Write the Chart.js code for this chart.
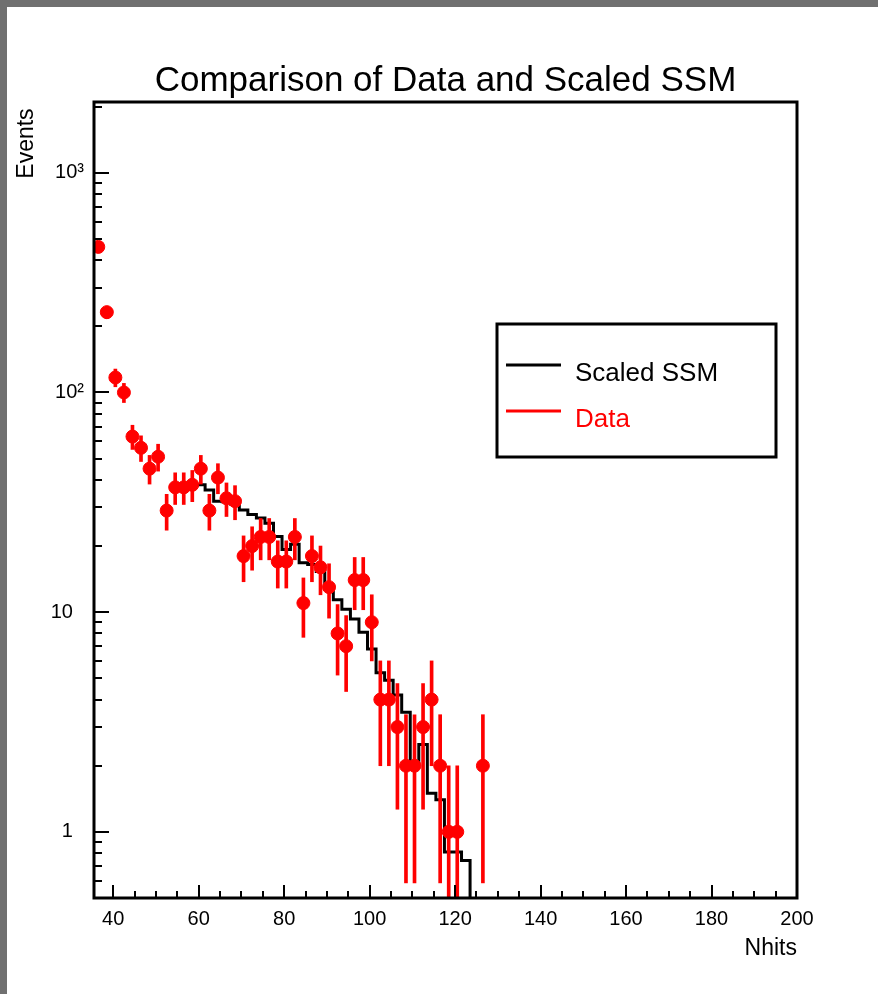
<!DOCTYPE html>
<html>
<head>
<meta charset="utf-8">
<script src="https://cdn.jsdelivr.net/npm/chart.js@4.4.1/dist/chart.umd.min.js"></script>
<style>
  html, body { margin: 0; padding: 0; background: #ffffff; }
  #wrap { position: relative; width: 878px; height: 994px; background: #ffffff; overflow: hidden; }
  #bandTop { position: absolute; left: 0; top: 0; width: 878px; height: 7px; background: #707070; }
  #bandLeft { position: absolute; left: 0; top: 0; width: 7px; height: 994px; background: #707070; }
  canvas { position: absolute; left: 0; top: 0; }
</style>
</head>
<body>
<div id="wrap">
  <div id="bandTop"></div>
  <div id="bandLeft"></div>
  <canvas id="c" width="878" height="994"></canvas>
</div>
<script>
// ---------------- data ----------------
const titleText = 'Comparison of Data and Scaled SSM';
const xAxisTitle = 'Nhits';
const yAxisTitle = 'Events';
const seriesNames = ['Scaled SSM', 'Data'];

// Data histogram (bin centres, counts)
const dataNhits = [36.5, 38.5, 40.5, 42.5, 44.5, 46.5, 48.5, 50.5, 52.5, 54.5,
                   56.5, 58.5, 60.5, 62.5, 64.5, 66.5, 68.5, 70.5, 72.5, 74.5,
                   76.5, 78.5, 80.5, 82.5, 84.5, 86.5, 88.5, 90.5, 92.5, 94.5,
                   96.5, 98.5, 100.5, 102.5, 104.5, 106.5, 108.5, 110.5, 112.5, 114.5,
                   116.5, 118.5, 120.5, 126.5];
const dataEvents = [460, 232, 117, 100, 63, 56, 45, 51, 29, 37,
                    37, 38, 45, 29, 41, 33, 32, 18, 20, 22,
                    22, 17, 17, 22, 11, 18, 16, 13, 8, 7,
                    14, 14, 9, 4, 4, 3, 2, 2, 3, 4,
                    2, 1, 1, 2];

// Scaled SSM histogram (bin centres, contents)
const ssmNhits = [60.5, 62.5, 64.5, 66.5, 68.5, 70.5, 72.5, 74.5, 76.5, 78.5,
                  80.5, 82.5, 84.5, 86.5, 88.5, 90.5, 92.5, 94.5, 96.5, 98.5,
                  100.5, 102.5, 104.5, 106.5, 108.5, 110.5, 112.5, 114.5, 116.5, 118.5,
                  120.5, 122.5, 124.5];
const ssmEvents = [38, 36, 32, 31.8, 31, 29.2, 27.8, 26.8, 25.4, 22.1,
                   19.3, 20.4, 16.8, 16.5, 15.3, 12.7, 11.4, 10.3, 9.3, 8.1,
                   6.8, 5.3, 4.9, 4.2, 3.5, 2.05, 2.5, 1.5, 1.4, 0.81,
                   0.81, 0.74, 0];
const binWidth = 2;

// axes
const xRange = [35.5, 200];
const yRange = [0.5, 2100];
const xMajorTicks = [40, 60, 80, 100, 120, 140, 160, 180, 200];
const xMinorStep = 5;
const yMajorTicks = [1, 10, 100, 1000];
const yTickLabels = ['1', '10', '10\u00b2', '10\u00b3'];
const yDecades = [0.1, 1, 10, 100, 1000];
const yMinorMultipliers = [2, 3, 4, 5, 6, 7, 8, 9];

// ---------------- derived tables ----------------
// empty bins cannot sit on a log axis: put them below the axis floor so the step drops out of the frame
const belowFloor = (v) => (v > 0 ? v : yRange[0] * 0.01);
const dataPoints = dataNhits.map((x, i) => ({ x: x, y: dataEvents[i] }));
const errorBars = dataNhits.map((x, i) => {
  const n = dataEvents[i], e = Math.sqrt(n);
  return { x: x, y: [belowFloor(n - e), n + e] };
});
const ssmSteps = ssmNhits.map((x, i) => ({ x: x - binWidth / 2, y: belowFloor(ssmEvents[i]) }));

const xTickValues = [];
for (let v = xMajorTicks[0]; v <= xRange[1] + 1e-9; v += xMinorStep) xTickValues.push(v);
const yTickValues = [];
yDecades.forEach(d => {
  [1].concat(yMinorMultipliers).forEach(m => {
    const v = +(d * m).toPrecision(6);
    if (v > yRange[0] && v < yRange[1]) yTickValues.push(v);
  });
});

const FONT = '"Liberation Sans", Arial, sans-serif';

// ---------------- plugins ----------------
const frameAndTicks = {
  id: 'frameAndTicks',
  afterDatasetsDraw(chart) {
    const { ctx, chartArea: a, scales } = chart;
    const xs = scales.x, ys = scales.y;
    ctx.save();
    ctx.strokeStyle = '#000';
    ctx.lineWidth = 2;
    ctx.beginPath();
    xs.ticks.forEach(t => {
      const px = Math.round(xs.getPixelForValue(t.value));
      const len = xMajorTicks.includes(t.value) ? 13 : 7;
      ctx.moveTo(px, a.bottom);
      ctx.lineTo(px, a.bottom - len);
    });
    ys.ticks.forEach(t => {
      const py = Math.round(ys.getPixelForValue(t.value));
      const len = yMajorTicks.includes(t.value) ? 15 : 8;
      ctx.moveTo(a.left, py);
      ctx.lineTo(a.left + len, py);
    });
    ctx.stroke();
    ctx.lineWidth = 3;
    ctx.strokeRect(a.left, a.top, a.right - a.left, a.bottom - a.top);
    ctx.restore();
  }
};

const boxLegend = {
  id: 'boxLegend',
  afterDraw(chart) {
    const ctx = chart.ctx;
    const entries = [
      { label: chart.data.datasets[0].label, color: chart.data.datasets[0].borderColor, y: 365 },
      { label: chart.data.datasets[2].label, color: chart.data.datasets[2].backgroundColor, y: 411 }
    ];
    ctx.save();
    ctx.fillStyle = '#fff';
    ctx.fillRect(497, 324, 279, 133);
    ctx.lineWidth = 3;
    ctx.strokeStyle = '#000';
    ctx.strokeRect(497, 324, 279, 133);
    ctx.font = '26px ' + FONT;
    ctx.textBaseline = 'middle';
    ctx.textAlign = 'left';
    entries.forEach((e) => {
      ctx.strokeStyle = e.color;
      ctx.lineWidth = 3;
      ctx.beginPath();
      ctx.moveTo(506, e.y);
      ctx.lineTo(561, e.y);
      ctx.stroke();
      ctx.fillStyle = e.color;
      ctx.fillText(e.label, 575, e.y + 9);
    });
    ctx.restore();
  }
};

// ---------------- chart ----------------
new Chart(document.getElementById('c'), {
  type: 'line',
  data: {
    datasets: [
      {
        type: 'line',
        label: seriesNames[0],
        data: ssmSteps,
        stepped: 'before',
        borderColor: '#000000',
        borderWidth: 3,
        pointRadius: 0,
        fill: false,
        order: 3,
        clip: 0
      },
      {
        type: 'bar',
        label: 'Data errors',
        data: errorBars,
        backgroundColor: '#ff0000',
        borderWidth: 0,
        barThickness: 3,
        grouped: false,
        order: 2,
        clip: 0
      },
      {
        type: 'line',
        label: seriesNames[1],
        data: dataPoints,
        showLine: false,
        pointRadius: 6.5,
        pointStyle: 'circle',
        backgroundColor: '#ff0000',
        borderColor: '#ff0000',
        pointBorderWidth: 1,
        order: 1,
        clip: 0
      }
    ]
  },
  options: {
    responsive: false,
    animation: false,
    devicePixelRatio: 1,
    layout: { padding: { left: 7, right: 81, top: 0, bottom: 26 } },
    plugins: {
      legend: { display: false },
      tooltip: { enabled: false },
      title: {
        display: true,
        text: titleText,
        fullSize: false,
        color: '#000',
        font: { family: FONT, size: 35, weight: 'normal', lineHeight: 1.2 },
        padding: { top: 60, bottom: 0 }
      }
    },
    scales: {
      x: {
        type: 'linear',
        min: xRange[0],
        max: xRange[1],
        offset: false,
        grid: { display: false, drawTicks: false },
        border: { display: false },
        afterBuildTicks: (scale) => { scale.ticks = xTickValues.map(v => ({ value: v })); },
        afterFit: (scale) => { scale.height = 70; },
        ticks: {
          autoSkip: false,
          maxRotation: 0,
          padding: 9,
          color: '#000',
          font: { family: FONT, size: 20 },
          callback: (v) => xMajorTicks.includes(v) ? String(v) : ''
        },
        title: {
          display: true,
          text: xAxisTitle,
          align: 'end',
          color: '#000',
          font: { family: FONT, size: 23 },
          padding: { top: 0, bottom: 6 }
        }
      },
      y: {
        type: 'logarithmic',
        min: yRange[0],
        max: yRange[1],
        grid: { display: false, drawTicks: false },
        border: { display: false },
        afterBuildTicks: (scale) => { scale.ticks = yTickValues.map(v => ({ value: v })); },
        afterFit: (scale) => { scale.width = 87; },
        ticks: {
          autoSkip: false,
          padding: 10,
          color: '#000',
          font: { family: FONT, size: 20 },
          callback: (v) => {
            const i = yMajorTicks.indexOf(v);
            if (i < 0) return '';
            const lbl = yTickLabels[i];
            return /[\u00b2\u00b3]/.test(lbl) ? lbl : lbl + '\u2007';
          }
        },
        title: {
          display: true,
          text: yAxisTitle + ' ',
          align: 'end',
          color: '#000',
          font: { family: FONT, size: 23 },
          padding: { top: 6, bottom: 0 }
        }
      }
    }
  },
  plugins: [frameAndTicks, boxLegend]
});
</script>
</body>
</html>
